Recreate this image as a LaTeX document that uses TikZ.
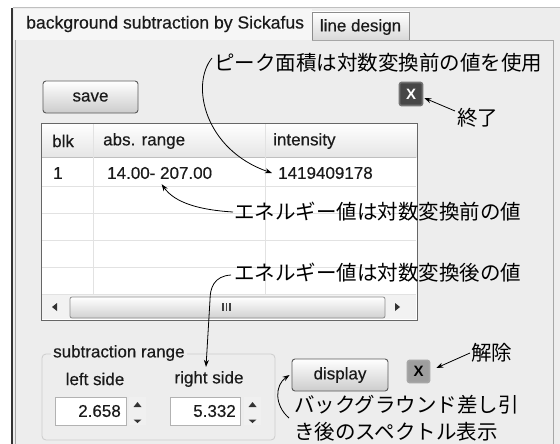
\documentclass[tikz,border=0pt]{standalone}
\usepackage{fontspec}
\setmainfont{Liberation Sans}
\newfontfamily\uifont[FakeBold=0.4]{Liberation Sans}
\newfontfamily\jpfont{Noto Sans CJK JP}
\usetikzlibrary{arrows.meta}

\definecolor{panelbg}{HTML}{EDEDED}
\definecolor{tabbg}{HTML}{F6F6F6}
\definecolor{gridc}{HTML}{E2E2E2}
\definecolor{uitext}{HTML}{1A1A1A}

\tikzset{
  ui/.style={font=\uifont\fontsize{17}{20}\selectfont, text=uitext, inner sep=0pt},
  tabtext/.style={font=\uifont\fontsize{17.6}{20}\selectfont, text=uitext, inner sep=0pt},
  jp/.style={font=\jpfont\fontsize{20.5}{27}\selectfont, text=black, inner sep=0pt},
  btn/.style={draw=black!65, line width=0.9pt, rounded corners=3pt,
    top color=white, bottom color=black!20, ui, inner sep=0pt},
  xdark/.style={draw=black!55, line width=1.6pt, rounded corners=2pt, fill=black!72,
    text=white, font=\bfseries\fontsize{15}{15}\selectfont, minimum size=23pt, inner sep=0pt},
  xlight/.style={draw=black!35, line width=1.6pt, rounded corners=2pt, fill=black!38,
    text=black, font=\bfseries\fontsize{15}{15}\selectfont, minimum size=22pt, inner sep=0pt},
  note/.style={line width=0.8pt, -{Stealth[length=7pt,width=5pt]}},
  field/.style={draw=black!30, fill=white, line width=0.8pt},
  spin/.style={fill=black!6, draw=none},
  tri/.style={fill=black!80, draw=none},
}

\begin{document}
\begin{tikzpicture}[x=1pt, y=-1pt]
\useasboundingbox (0,0) rectangle (560,444);
\fill[white] (0,0) rectangle (560,444);

% window and panel background
\fill[panelbg] (13,8) rectangle (560,444);
\fill[tabbg] (14,9) rectangle (312,40);
\draw[black!25, line width=1pt] (560,8) -- (13,8);
\draw[black!80, line width=1.2pt] (12,8) -- (12,444);
\draw[black!35, line width=0.8pt] (15,40) -- (15,444);

% tabs
\draw[black!35, line width=0.8pt] (312,40) -- (553,40) -- (553,444);
\draw[black!45, line width=0.8pt, top color=white, bottom color=black!15]
  (312,40) -- (312,12) -- (409,12) -- (409,40);
\node[tabtext, anchor=west] (tabone) at (26,24) {background subtraction by Sickafus};
\node[ui] (tabtwo) at (360.5,27) {line design};

% buttons
\node[btn, minimum width=95pt, minimum height=32pt] (save) at (90.5,97) {save};
\node[xdark] (close) at (411,94) {X};

% table
\fill[white] (41,123) rectangle (417,320);
\shade[top color=white, bottom color=black!10] (41,123) rectangle (417,157);
\foreach \yy in {186,213,240,267,294} \draw[gridc, line width=0.8pt] (42,\yy) -- (416,\yy);
\draw[black!25, line width=0.8pt] (42,157) -- (416,157);
\draw[gridc, line width=0.8pt] (93,123) -- (93,294);
\draw[gridc, line width=0.8pt] (265,123) -- (265,294);
\draw[black!60, line width=1pt] (41,123) rectangle (417,320);

\node[ui, anchor=west] (hblk) at (52,141) {blk};
\node[ui, anchor=west] (hrange) at (103,141) {abs. range};
\node[ui, anchor=west] (hint) at (273,141) {intensity};
\node[ui, anchor=west] (blkone) at (53,173) {1};
\node[ui, anchor=west] (rangeone) at (107,173) {14.00- 207.00};
\node[ui, anchor=west] (intone) at (278,173) {1419409178};

% horizontal scroll bar
\fill[black!5] (42,295) rectangle (416,319);
\fill[tri] (52,307) -- (57,303) -- (57,311) -- cycle;
\draw[black!45, line width=0.8pt, rounded corners=2pt, top color=white, bottom color=black!18]
  (70,297) rectangle (385,318);
\foreach \xx in {223,226.5,230} \draw[black!75, line width=1.1pt] (\xx,303) -- (\xx,311);
\fill[tri] (400,307) -- (395,303) -- (395,311) -- cycle;

% subtraction range group
\draw[black!20, line width=0.8pt, rounded corners=4pt] (42,354) rectangle (275,440);
\node[ui, anchor=west, fill=panelbg, inner xsep=2pt] (grp) at (51,353) {subtraction range};
\node[ui] (lside) at (95,379) {left side};
\node[ui] (rside) at (209,379) {right side};

\draw[field] (55,397) rectangle (126,425);
\fill[spin] (129,397) rectangle (146,425);
\node[ui, anchor=east] (lval) at (121,411) {2.658};
\fill[tri] (137.5,402) -- (141.5,407) -- (133.5,407) -- cycle;
\fill[tri] (133.5,419.5) -- (141.5,419.5) -- (137.5,423) -- cycle;

\draw[field] (170,397) rectangle (240,425);
\fill[spin] (244,397) rectangle (261,425);
\node[ui, anchor=east] (rval) at (236,411) {5.332};
\fill[tri] (252.5,402) -- (256.5,407) -- (248.5,407) -- cycle;
\fill[tri] (248.5,419.5) -- (256.5,419.5) -- (252.5,423) -- cycle;

\node[btn, minimum width=96pt, minimum height=32pt] (display) at (340,375) {display};
\node[xlight] (reset) at (418.5,371.5) {X};

% annotations
\node[jp, anchor=west] (peaknote) at (214,63) {ピーク面積は対数変換前の値を使用};
\node[jp, anchor=west] (endnote) at (457,118) {終了};
\node[jp, anchor=west] (prenote) at (234,212) {エネルギー値は対数変換前の値};
\node[jp, anchor=west] (postnote) at (234,273) {エネルギー値は対数変換後の値};
\node[jp, anchor=west] (resetnote) at (471,353) {解除};
\node[jp, anchor=west] (specone) at (294,405) {バックグラウンド差し引};
\node[jp, anchor=west] (spectwo) at (294,432) {き後のスペクトル表示};

\draw[note] ([xshift=-2pt,yshift=5pt]peaknote.west) .. controls (190,85) and (205,150) .. ([xshift=-6pt]intone.west);
\draw[note] ([xshift=-2pt,yshift=7pt]endnote.west) -- ([xshift=1pt,yshift=-4pt]close.east);
\draw[note] ([xshift=-1pt]prenote.west) .. controls (200,210) and (175,203) .. ([xshift=2pt,yshift=-5pt]rangeone.south);
\draw[note] ([xshift=-3pt,yshift=-2pt]postnote.west) .. controls (214,276) and (210,288) .. (210,300) -- ([xshift=-3pt,yshift=4pt]rside.north);
\draw[note] ([xshift=-1pt]resetnote.west) -- ([xshift=6pt,yshift=3.5pt]reset.east);
\draw[note] ([xshift=-5pt,yshift=-13pt]specone.west) .. controls (274,405) and (275,385) .. ([xshift=-2pt]display.west);
\end{tikzpicture}
\end{document}
